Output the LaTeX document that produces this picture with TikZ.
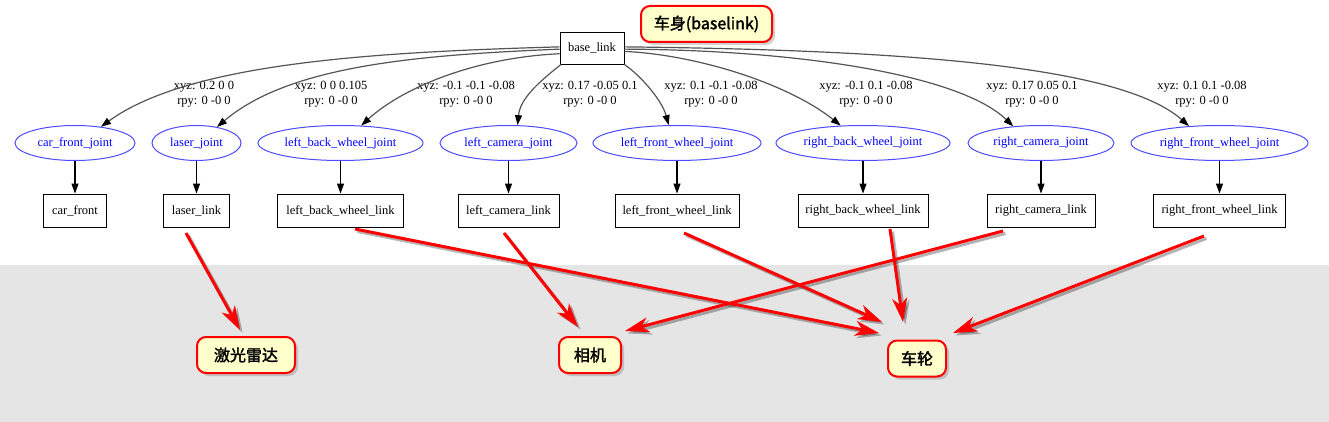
\documentclass[tikz,border=0pt]{standalone}
\usepackage{fontspec}
\setmainfont{Liberation Serif}
\newfontfamily\cjk[AutoFakeBold=2]{Noto Sans CJK SC}
\usetikzlibrary{arrows.meta,shadows,shapes.geometric,calc}
\definecolor{bandgray}{HTML}{E5E5E5}
\definecolor{noteyellow}{HTML}{FFFFCC}
\definecolor{jointblue}{HTML}{0000FF}
\definecolor{edgegray}{HTML}{555555}
\begin{document}
\begin{tikzpicture}[x=1pt,y=-1pt,
  gvfont/.style={font=\fontsize{12.5}{15}\selectfont},
  link/.style={draw,line width=0.9pt,rectangle,minimum height=33pt,inner sep=0pt,gvfont},
  joint/.style={draw=blue!70,line width=1pt,ellipse,minimum height=35pt,inner sep=0pt,text=jointblue,gvfont},
  elabel/.style={align=center,inner sep=0pt,gvfont},
  note/.style={draw=red,line width=2pt,fill=noteyellow,rounded corners=9pt,minimum height=36pt,inner sep=0pt,
    font=\cjk\bfseries\fontsize{16}{18}\selectfont,
    drop shadow={shadow xshift=3pt,shadow yshift=-3pt,opacity=.35}},
  tf/.style={draw=edgegray,line width=1.2pt,-{Triangle[length=10pt,width=7pt,color=black]}},
  downarrow/.style={draw=black,line width=1.1pt,-{Triangle[length=10pt,width=7pt]}},
  redarrow/.style={draw=red,fill=red,line width=3pt,-{Stealth[length=24pt,width=15pt,inset=7pt]}},
  redshadow/.style={draw=black,fill=black,opacity=.28,line width=3pt,-{Stealth[length=24pt,width=15pt,inset=7pt]},
    transform canvas={shift={(2.5,2.5)}}}
]
\useasboundingbox (0,0) rectangle (1329,422);
\fill[white] (0,0) rectangle (1329,422);
\fill[bandgray] (0,265) rectangle (1329,422);

% root
\node[link,minimum width=64pt,minimum height=32pt] (base) at (592,48) {base\_link};

% joints
\node[joint,minimum width=120pt] (cfj) at (75,143) {car\_front\_joint};
\node[joint,minimum width=89pt] (lj) at (196.5,143) {laser\_joint};
\node[joint,minimum width=165pt] (lbwj) at (340.5,143) {left\_back\_wheel\_joint};
\node[joint,minimum width=137pt] (lcj) at (508.5,143) {left\_camera\_joint};
\node[joint,minimum width=168pt] (lfwj) at (677,143) {left\_front\_wheel\_joint};
\node[joint,minimum width=174pt] (rbwj) at (863,143) {right\_back\_wheel\_joint};
\node[joint,minimum width=146pt] (rcj) at (1041,143) {right\_camera\_joint};
\node[joint,minimum width=177pt] (rfwj) at (1219.5,143) {right\_front\_wheel\_joint};

% links
\node[link,minimum width=63pt] (cf) at (75,210.5) {car\_front};
\node[link,minimum width=66pt] (ll) at (196.5,210.5) {laser\_link};
\node[link,minimum width=126pt] (lbwl) at (340.5,210.5) {left\_back\_wheel\_link};
\node[link,minimum width=101pt] (lcl) at (508.5,210.5) {left\_camera\_link};
\node[link,minimum width=124pt] (lfwl) at (677,210.5) {left\_front\_wheel\_link};
\node[link,minimum width=130pt] (rbwl) at (863,210.5) {right\_back\_wheel\_link};
\node[link,minimum width=108pt] (rcl) at (1041,210.5) {right\_camera\_link};
\node[link,minimum width=132pt] (rfwl) at (1219.5,210.5) {right\_front\_wheel\_link};

% edge labels
\node[elabel] (e1) at (204,94.5) {xyz: 0.2 0 0\\rpy: 0 -0 0};
\node[elabel] (e2) at (331,94.5) {xyz: 0 0 0.105\\rpy: 0 -0 0};
\node[elabel] (e3) at (466,94.5) {xyz: -0.1 -0.1 -0.08\\rpy: 0 -0 0};
\node[elabel] (e4) at (590,94.5) {xyz: 0.17 -0.05 0.1\\rpy: 0 -0 0};
\node[elabel] (e5) at (711,94.5) {xyz: 0.1 -0.1 -0.08\\rpy: 0 -0 0};
\node[elabel] (e6) at (866,94.5) {xyz: -0.1 0.1 -0.08\\rpy: 0 -0 0};
\node[elabel] (e7) at (1032,94.5) {xyz: 0.17 0.05 0.1\\rpy: 0 -0 0};
\node[elabel] (e8) at (1202,94.5) {xyz: 0.1 0.1 -0.08\\rpy: 0 -0 0};

% curved edges from base_link
\draw[tf] (base.178) .. controls (380,52) and (190,62) .. (cfj.32);
\draw[tf] (base.182) .. controls (420,55) and (290,65) .. (lj.38);
\draw[tf] (base.190) .. controls (470,58) and (400,90) .. (lbwj.40);
\draw[tf] (base.208) .. controls (535,85) and (520,100) .. (lcj.63);
\draw[tf] (base.333) .. controls (640,75) and (662,100) .. (lfwj.115);
\draw[tf] (base.354) .. controls (700,55) and (790,85) .. (rbwj.142);
\draw[tf] (base.358) .. controls (800,50) and (960,75) .. (rcj.149);
\draw[tf] (base.2) .. controls (900,50) and (1120,65) .. (rfwj.151);

% joint -> link
\foreach \j/\l in {cfj/cf,lj/ll,lbwj/lbwl,lcj/lcl,lfwj/lfwl,rbwj/rbwl,rcj/rcl,rfwj/rfwl}
  \draw[downarrow] (\j.south) -- (\j.south |- \l.north);

% notes
\node[note,minimum width=131pt] (nbody) at (706.5,24) {车身(baselink)};
\node[note,minimum width=98pt] (nlidar) at (246,355) {激光雷达};
\node[note,minimum width=62pt] (ncam) at (590,355) {相机};
\node[note,minimum width=58pt] (nwheel) at (917,358.5) {车轮};

% red arrows
\coordinate (s1) at (186,233); \coordinate (t1) at (240,330);
\coordinate (s2) at (355,229); \coordinate (t2) at (879,333);
\coordinate (s3) at (504,233); \coordinate (t3) at (578,327);
\coordinate (s4) at (684,233); \coordinate (t4) at (882,322);
\coordinate (s5) at (890,229); \coordinate (t5) at (903,322);
\coordinate (s6) at (1003,231); \coordinate (t6) at (625,331);
\coordinate (s7) at (1204,236); \coordinate (t7) at (953,333);
\foreach \i in {1,...,7} \draw[redshadow] (s\i) -- (t\i);
\foreach \i in {1,...,7} \draw[redarrow] (s\i) -- (t\i);
\end{tikzpicture}
\end{document}
